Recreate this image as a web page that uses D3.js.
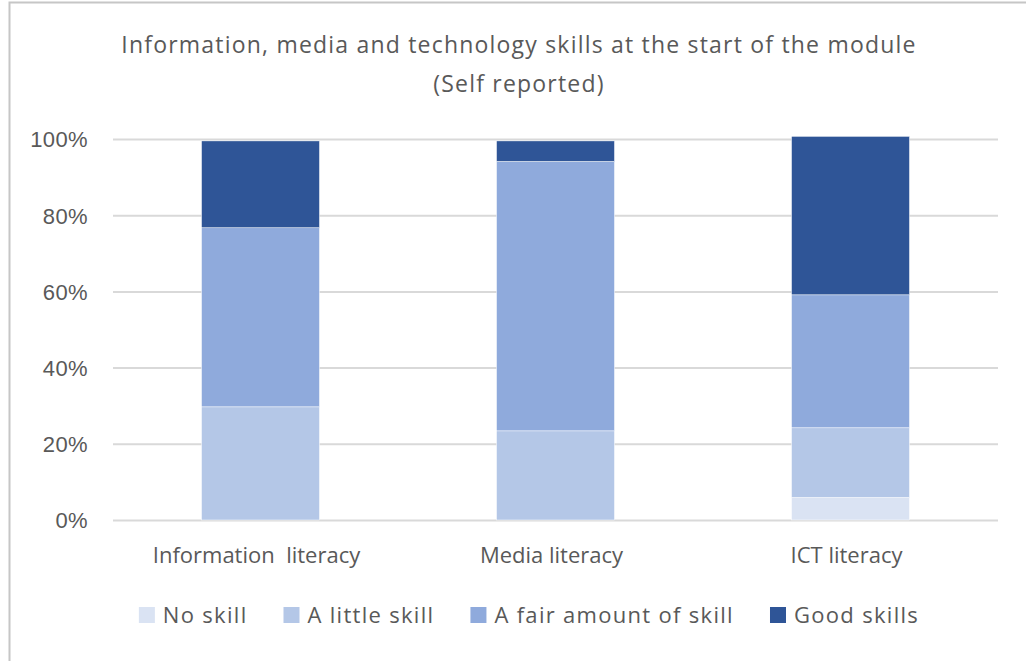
<!DOCTYPE html>
<html>
<head>
<meta charset="utf-8">
<script src="https://cdn.jsdelivr.net/npm/d3@7"></script>
<style>
  body { margin: 0; background: #fff; }
  svg text { fill: #595959; }
</style>
</head>
<body>
<svg id="chart" width="1026" height="661"></svg>
<script>
// chart data, percentages
var categories = ["Information  literacy", "Media literacy", "ICT literacy"];
var seriesNames = ["No skill", "A little skill", "A fair amount of skill", "Good skills"];
var noSkill = [0, 0, 5.9];
var littleSkill = [29.7, 23.4, 18.3];
var fairSkill = [47.0, 70.7, 34.9];
var goodSkills = [22.8, 5.4, 41.6];
var tickValues = [0, 20, 40, 60, 80, 100];
var colors = ["#dae3f3", "#b4c7e7", "#8faadc", "#2f5597"];

var titleLines = ["Information, media and technology skills at the start of the module", "(Self reported)"];

var svg = d3.select('#chart');
var plotLeft = 113, plotRight = 998, plotTop = 139, plotBottom = 520;

// outer frame (only top and left edges are inside the picture)
svg.append('rect')
    .attr('x', 9.5).attr('y', 2.5)
    .attr('width', 1100).attr('height', 1000)
    .attr('fill', 'none')
    .attr('stroke', '#c6c6c6')
    .attr('stroke-width', 2);

var table = categories.map(function(c, i) {
    return {cat: c, "No skill": noSkill[i], "A little skill": littleSkill[i],
        "A fair amount of skill": fairSkill[i], "Good skills": goodSkills[i]};
});

var x = d3.scaleBand()
    .domain(categories)
    .range([plotLeft, plotRight])
    .paddingInner(0.6)
    .paddingOuter(0.3);

var y = d3.scaleLinear()
    .domain([0, 100])
    .range([plotBottom, plotTop]);

// gridlines + tick labels
var yAxis = svg.append('g')
    .attr('transform', 'translate(' + plotLeft + ',0)')
    .call(d3.axisLeft(y)
        .tickValues(tickValues)
        .tickSize(-(plotRight - plotLeft))
        .tickPadding(25)
        .tickFormat(function(d) { return d + '%'; }));
yAxis.select('.domain').remove();
yAxis.selectAll('line')
    .attr('stroke', '#d9d9d9')
    .attr('stroke-width', 2);
yAxis.selectAll('text')
    .attr('dy', '0.36em')
    .style('font-family', '"Liberation Sans", Arial, sans-serif')
    .style('font-size', '22px')
    .style('letter-spacing', '0.4px')
    .style('fill', '#595959');

var stack = d3.stack().keys(seriesNames);
var layers = stack(table);

svg.append('g').selectAll('g')
    .data(layers)
    .enter()
    .append('g')
    .attr('fill', function(d, i) { return colors[i]; })
    .selectAll('rect')
    .data(function(d) { return d; })
    .enter()
    .append('rect')
    .attr('x', function(d) { return x(d.data.cat); })
    .attr('width', x.bandwidth())
    .attr('y', function(d) { return y(d[1]); })
    .attr('height', function(d) { return y(d[0]) - y(d[1]); })
    .attr('stroke', '#fff')
    .attr('stroke-width', 0.5);

// category labels
var xAxis = svg.append('g')
    .attr('transform', 'translate(0,' + plotBottom + ')')
    .call(d3.axisBottom(x).tickSize(0).tickPadding(0));
xAxis.select('.domain').remove();
xAxis.selectAll('text')
    .attr('y', 43)
    .attr('dy', 0)
    .attr('dx', -4)
    .style('font-family', '"Open Sans", sans-serif')
    .style('font-size', '22px')
    .style('white-space', 'pre')
    .style('fill', '#595959');

// title
svg.append('g').selectAll('text')
    .data(titleLines)
    .enter()
    .append('text')
    .attr('x', 519)
    .attr('y', function(d, i) { return 53 + i * 39; })
    .attr('text-anchor', 'middle')
    .style('font-family', '"Open Sans", sans-serif')
    .style('font-size', '23px')
    .style('letter-spacing', '1.2px')
    .text(function(d) { return d; });

// legend
var legend = svg.append('g');
var items = legend.selectAll('g')
    .data(seriesNames)
    .enter()
    .append('g');
items.append('rect')
    .attr('width', 16).attr('height', 16)
    .attr('y', 607)
    .attr('fill', function(d, i) { return colors[i]; });
items.append('text')
    .attr('x', 24)
    .attr('y', 623)
    .style('font-family', '"Open Sans", sans-serif')
    .style('font-size', '22px')
    .style('letter-spacing', '1.3px')
    .text(function(d) { return d; });

var pos = 0;
var widths = [];
items.each(function() {
    widths.push(d3.select(this).select('text').node().getComputedTextLength());
});
var total = d3.sum(widths, function(w) { return 24 + w; }) + 36 * (widths.length - 1);
pos = 529 - total / 2;
items.attr('transform', function(d, i) {
    var p = pos;
    pos += 24 + widths[i] + 36;
    return 'translate(' + p + ',0)';
});
</script>
</body>
</html>
